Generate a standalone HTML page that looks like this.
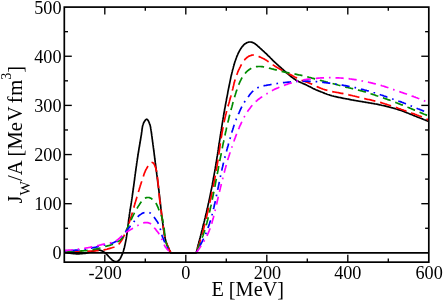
<!DOCTYPE html>
<html><head><meta charset="utf-8"><title>J_W/A</title>
<style>html,body{margin:0;padding:0;background:#fff;}body{width:443px;height:300px;overflow:hidden;position:relative;font-family:"Liberation Serif",serif;}</style>
</head><body>
<svg width="443" height="300" viewBox="0 0 443 300" style="position:absolute;left:0;top:0;will-change:transform">
<rect x="0" y="0" width="443" height="300" fill="#fff"/>
<g fill="none" stroke-width="1.7" stroke-linejoin="round">
<path d="M64.3,252.3 L65.3,252.5 L66.3,252.6 L67.3,252.8 L68.2,252.9 L69.2,253.1 L70.2,253.2 L71.2,253.4 L72.2,253.5 L73.2,253.6 L74.2,253.7 L75.2,253.7 L76.2,253.8 L77.2,253.8 L78.2,253.8 L79.2,253.8 L80.2,253.7 L81.2,253.7 L82.1,253.6 L83.1,253.5 L84.1,253.4 L85.1,253.3 L86.1,253.1 L87.1,252.9 L88.1,252.7 L89.0,252.5 L90.0,252.2 L90.9,251.9 L91.9,251.5 L92.8,251.2 L93.8,250.9 L94.7,250.6 L95.7,250.3 L96.7,250.1 L97.7,250.0 L98.7,250.0 L99.7,250.2 L100.6,250.4 L101.6,250.7 L102.5,251.1 L103.4,251.6 L104.2,252.2 L105.0,252.8 L105.8,253.4 L106.5,254.1 L107.2,254.8 L107.9,255.6 L108.5,256.3 L109.2,257.0 L109.9,257.8 L110.6,258.5 L111.3,259.2 L112.0,259.9 L112.8,260.5 L113.7,261.0 L114.6,261.5 L115.6,261.7 L116.6,261.6 L117.5,261.3 L118.4,260.7 L119.2,260.0 L119.8,259.2 L120.3,258.4 L120.8,257.5 L121.2,256.6 L121.6,255.7 L122.0,254.8 L122.4,253.9 L122.7,252.9 L123.1,252.0 L123.4,251.1 L123.7,250.1 L124.0,249.1 L124.2,248.2 L124.5,247.2 L124.7,246.2 L124.9,245.3 L125.1,244.3 L125.3,243.3 L125.5,242.3 L125.7,241.3 L125.9,240.4 L126.1,239.4 L126.3,238.4 L126.4,237.4 L126.6,236.4 L126.7,235.4 L126.9,234.5 L127.0,233.5 L127.2,232.5 L127.3,231.5 L127.4,230.5 L127.5,229.5 L127.7,228.5 L127.8,227.5 L127.9,226.5 L128.0,225.6 L128.1,224.6 L128.3,223.6 L128.4,222.6 L128.5,221.6 L128.6,220.6 L128.7,219.6 L128.9,218.6 L129.0,217.6 L129.2,216.7 L129.3,215.7 L129.4,214.7 L129.6,213.7 L129.7,212.7 L129.9,211.7 L130.0,210.7 L130.2,209.8 L130.3,208.8 L130.5,207.8 L130.6,206.8 L130.8,205.8 L131.0,204.8 L131.1,203.8 L131.3,202.9 L131.4,201.9 L131.6,200.9 L131.7,199.9 L131.9,198.9 L132.0,197.9 L132.2,196.9 L132.3,195.9 L132.4,195.0 L132.6,194.0 L132.7,193.0 L132.9,192.0 L133.0,191.0 L133.1,190.0 L133.3,189.0 L133.4,188.0 L133.5,187.0 L133.7,186.1 L133.8,185.1 L133.9,184.1 L134.1,183.1 L134.2,182.1 L134.3,181.1 L134.5,180.1 L134.6,179.1 L134.7,178.1 L134.8,177.2 L135.0,176.2 L135.1,175.2 L135.2,174.2 L135.4,173.2 L135.5,172.2 L135.6,171.3 L135.8,170.3 L135.9,169.3 L136.0,168.3 L136.2,167.3 L136.3,166.3 L136.5,165.4 L136.6,164.4 L136.7,163.4 L136.9,162.4 L137.0,161.4 L137.2,160.4 L137.3,159.5 L137.5,158.5 L137.6,157.5 L137.8,156.5 L137.9,155.5 L138.1,154.5 L138.2,153.5 L138.4,152.5 L138.6,151.5 L138.7,150.5 L138.9,149.5 L139.0,148.5 L139.2,147.5 L139.4,146.5 L139.6,145.5 L139.7,144.5 L139.9,143.5 L140.1,142.5 L140.2,141.5 L140.4,140.5 L140.6,139.5 L140.7,138.5 L140.9,137.5 L141.0,136.6 L141.2,135.6 L141.4,134.6 L141.5,133.6 L141.6,132.7 L141.8,131.7 L141.9,130.8 L142.0,129.8 L142.1,128.9 L142.3,128.0 L142.4,127.0 L142.6,126.1 L142.8,125.2 L143.2,124.2 L143.5,123.2 L144.0,122.2 L144.6,121.2 L145.3,120.2 L146.0,119.5 L146.7,119.2 L147.4,119.5 L148.1,120.4 L148.6,121.4 L149.1,122.5 L149.5,123.6 L149.9,124.6 L150.2,125.6 L150.4,126.5 L150.6,127.4 L150.7,128.4 L150.9,129.3 L151.0,130.2 L151.2,131.1 L151.3,132.0 L151.4,133.0 L151.6,133.9 L151.7,134.9 L151.8,135.9 L152.0,136.8 L152.1,137.8 L152.2,138.8 L152.4,139.8 L152.5,140.8 L152.6,141.8 L152.8,142.8 L152.9,143.9 L153.0,144.9 L153.2,145.9 L153.3,146.9 L153.4,147.9 L153.6,148.9 L153.7,150.0 L153.8,151.0 L154.0,152.0 L154.1,153.0 L154.2,154.0 L154.3,155.0 L154.5,156.0 L154.6,157.0 L154.7,158.0 L154.8,159.0 L155.0,159.9 L155.1,160.9 L155.2,161.9 L155.3,162.9 L155.5,163.9 L155.6,164.9 L155.7,165.9 L155.8,166.8 L156.0,167.8 L156.1,168.8 L156.2,169.8 L156.3,170.8 L156.5,171.7 L156.6,172.7 L156.7,173.7 L156.8,174.7 L157.0,175.7 L157.1,176.7 L157.2,177.6 L157.3,178.6 L157.5,179.6 L157.6,180.6 L157.7,181.6 L157.8,182.6 L158.0,183.6 L158.1,184.6 L158.2,185.5 L158.4,186.5 L158.5,187.5 L158.6,188.5 L158.7,189.5 L158.9,190.5 L159.0,191.5 L159.1,192.5 L159.2,193.5 L159.3,194.5 L159.5,195.5 L159.6,196.5 L159.7,197.4 L159.8,198.4 L159.9,199.4 L160.0,200.4 L160.2,201.4 L160.3,202.4 L160.4,203.4 L160.5,204.4 L160.6,205.4 L160.7,206.4 L160.8,207.4 L160.9,208.4 L161.1,209.3 L161.2,210.3 L161.3,211.3 L161.4,212.3 L161.5,213.3 L161.6,214.3 L161.7,215.3 L161.9,216.3 L162.0,217.3 L162.1,218.3 L162.2,219.2 L162.3,220.2 L162.5,221.2 L162.6,222.2 L162.7,223.2 L162.9,224.2 L163.0,225.2 L163.1,226.2 L163.3,227.1 L163.4,228.1 L163.6,229.1 L163.7,230.1 L163.9,231.1 L164.0,232.1 L164.2,233.1 L164.3,234.1 L164.5,235.0 L164.7,236.0 L164.9,237.0 L165.1,238.0 L165.3,239.0 L165.6,239.9 L165.8,240.9 L166.1,241.8 L166.4,242.8 L166.8,243.7 L167.1,244.7 L167.5,245.6 L167.9,246.5 L168.3,247.4 L168.7,248.3 L169.1,249.2 L169.5,250.1 L170.0,251.0 L170.4,251.9 L170.8,252.8 L196.2,252.8 L196.4,251.9 L196.7,250.9 L196.9,249.9 L197.2,249.0 L197.4,248.0 L197.7,247.1 L197.9,246.1 L198.2,245.1 L198.4,244.2 L198.7,243.2 L198.9,242.2 L199.2,241.3 L199.4,240.3 L199.7,239.3 L199.9,238.4 L200.2,237.4 L200.4,236.4 L200.7,235.5 L200.9,234.5 L201.2,233.5 L201.4,232.6 L201.7,231.6 L201.9,230.6 L202.2,229.7 L202.4,228.7 L202.7,227.7 L202.9,226.8 L203.1,225.8 L203.4,224.8 L203.6,223.8 L203.9,222.9 L204.1,221.9 L204.4,220.9 L204.6,220.0 L204.8,219.0 L205.1,218.0 L205.3,217.1 L205.5,216.1 L205.8,215.1 L206.0,214.2 L206.2,213.2 L206.5,212.2 L206.7,211.2 L206.9,210.3 L207.1,209.3 L207.4,208.3 L207.6,207.3 L207.8,206.4 L208.0,205.4 L208.2,204.4 L208.4,203.5 L208.7,202.5 L208.9,201.5 L209.1,200.5 L209.3,199.5 L209.5,198.6 L209.7,197.6 L209.9,196.6 L210.1,195.6 L210.3,194.7 L210.5,193.7 L210.7,192.7 L210.9,191.7 L211.1,190.7 L211.3,189.8 L211.5,188.8 L211.7,187.8 L211.9,186.8 L212.1,185.9 L212.3,184.9 L212.4,183.9 L212.6,182.9 L212.8,181.9 L213.0,180.9 L213.2,180.0 L213.4,179.0 L213.5,178.0 L213.7,177.0 L213.9,176.0 L214.1,175.1 L214.2,174.1 L214.4,173.1 L214.6,172.1 L214.8,171.1 L214.9,170.1 L215.1,169.2 L215.3,168.2 L215.4,167.2 L215.6,166.2 L215.8,165.2 L215.9,164.2 L216.1,163.2 L216.3,162.3 L216.4,161.3 L216.6,160.3 L216.7,159.3 L216.9,158.3 L217.0,157.3 L217.2,156.4 L217.4,155.4 L217.5,154.4 L217.7,153.4 L217.8,152.4 L218.0,151.4 L218.1,150.4 L218.3,149.4 L218.4,148.5 L218.6,147.5 L218.7,146.5 L218.9,145.5 L219.0,144.5 L219.2,143.5 L219.3,142.5 L219.5,141.6 L219.6,140.6 L219.8,139.6 L219.9,138.6 L220.1,137.6 L220.2,136.6 L220.4,135.6 L220.5,134.7 L220.7,133.7 L220.8,132.7 L221.0,131.7 L221.2,130.7 L221.3,129.7 L221.5,128.7 L221.6,127.7 L221.8,126.8 L221.9,125.8 L222.1,124.8 L222.2,123.8 L222.4,122.8 L222.6,121.8 L222.7,120.9 L222.9,119.9 L223.0,118.9 L223.2,117.9 L223.4,116.9 L223.5,115.9 L223.7,114.9 L223.9,114.0 L224.0,113.0 L224.2,112.0 L224.4,111.0 L224.6,110.0 L224.7,109.0 L224.9,108.1 L225.1,107.1 L225.3,106.1 L225.4,105.1 L225.6,104.1 L225.8,103.2 L226.0,102.2 L226.2,101.2 L226.4,100.2 L226.5,99.2 L226.7,98.3 L226.9,97.3 L227.1,96.3 L227.3,95.3 L227.5,94.3 L227.7,93.3 L227.8,92.4 L228.0,91.4 L228.2,90.4 L228.4,89.4 L228.6,88.4 L228.8,87.5 L229.0,86.5 L229.2,85.5 L229.4,84.5 L229.6,83.6 L229.8,82.6 L230.0,81.6 L230.2,80.6 L230.4,79.6 L230.6,78.7 L230.8,77.7 L231.0,76.7 L231.2,75.7 L231.5,74.8 L231.7,73.8 L231.9,72.8 L232.2,71.9 L232.4,70.9 L232.6,69.9 L232.9,69.0 L233.2,68.0 L233.4,67.0 L233.7,66.1 L234.0,65.1 L234.2,64.2 L234.5,63.2 L234.8,62.2 L235.1,61.3 L235.5,60.3 L235.8,59.4 L236.1,58.5 L236.5,57.5 L236.8,56.6 L237.2,55.7 L237.6,54.8 L238.0,53.8 L238.4,52.9 L238.9,52.0 L239.3,51.2 L239.8,50.3 L240.3,49.4 L240.9,48.6 L241.4,47.8 L242.0,46.9 L242.7,46.2 L243.3,45.4 L244.0,44.7 L244.8,44.0 L245.6,43.4 L246.5,42.9 L247.4,42.5 L248.4,42.2 L249.4,42.0 L250.4,42.0 L251.3,42.2 L252.3,42.4 L253.2,42.8 L254.2,43.3 L255.0,43.8 L255.8,44.4 L256.6,45.0 L257.4,45.6 L258.1,46.3 L258.9,47.0 L259.6,47.6 L260.3,48.3 L261.1,49.0 L261.8,49.7 L262.5,50.4 L263.3,51.0 L264.0,51.7 L264.7,52.4 L265.5,53.1 L266.2,53.7 L266.9,54.4 L267.6,55.1 L268.3,55.8 L269.1,56.5 L269.8,57.2 L270.5,58.0 L271.2,58.7 L271.9,59.4 L272.6,60.1 L273.3,60.8 L274.0,61.5 L274.7,62.1 L275.5,62.8 L276.2,63.5 L276.9,64.2 L277.7,64.8 L278.4,65.5 L279.1,66.2 L279.9,66.8 L280.6,67.5 L281.4,68.2 L282.1,68.8 L282.9,69.5 L283.6,70.1 L284.4,70.8 L285.1,71.5 L285.9,72.1 L286.6,72.8 L287.4,73.5 L288.2,74.1 L288.9,74.8 L289.7,75.4 L290.4,76.1 L291.2,76.7 L292.0,77.3 L292.8,77.9 L293.6,78.5 L294.4,79.1 L295.3,79.6 L296.1,80.2 L297.0,80.6 L297.8,81.1 L298.7,81.6 L299.6,82.0 L300.5,82.4 L301.4,82.8 L302.4,83.2 L303.3,83.6 L304.2,84.0 L305.1,84.4 L306.0,84.8 L306.9,85.3 L307.8,85.7 L308.7,86.2 L309.6,86.6 L310.5,87.1 L311.4,87.6 L312.2,88.0 L313.1,88.5 L314.0,88.9 L314.9,89.3 L315.8,89.7 L316.8,90.1 L317.7,90.5 L318.6,90.9 L319.5,91.2 L320.5,91.6 L321.4,92.0 L322.3,92.3 L323.3,92.7 L324.2,93.1 L325.1,93.5 L326.0,93.8 L327.0,94.2 L327.9,94.5 L328.9,94.8 L329.8,95.1 L330.8,95.4 L331.7,95.7 L332.7,96.0 L333.6,96.2 L334.6,96.5 L335.6,96.7 L336.6,96.9 L337.5,97.1 L338.5,97.3 L339.5,97.5 L340.5,97.7 L341.5,97.9 L342.4,98.1 L343.4,98.3 L344.4,98.5 L345.4,98.7 L346.4,98.8 L347.3,99.0 L348.3,99.2 L349.3,99.4 L350.3,99.6 L351.3,99.8 L352.2,100.0 L353.2,100.1 L354.2,100.3 L355.2,100.5 L356.2,100.7 L357.2,100.8 L358.1,101.0 L359.1,101.2 L360.1,101.3 L361.1,101.5 L362.1,101.6 L363.1,101.8 L364.0,102.0 L365.0,102.1 L366.0,102.3 L367.0,102.5 L368.0,102.6 L369.0,102.8 L370.0,103.0 L370.9,103.1 L371.9,103.3 L372.9,103.5 L373.9,103.7 L374.9,103.9 L375.8,104.0 L376.8,104.2 L377.8,104.4 L378.8,104.6 L379.8,104.8 L380.7,105.0 L381.7,105.3 L382.7,105.5 L383.7,105.7 L384.6,105.9 L385.6,106.1 L386.6,106.4 L387.5,106.6 L388.5,106.8 L389.5,107.1 L390.4,107.3 L391.4,107.6 L392.4,107.8 L393.3,108.1 L394.3,108.4 L395.3,108.7 L396.2,109.0 L397.2,109.3 L398.1,109.6 L399.1,109.9 L400.0,110.2 L401.0,110.5 L401.9,110.8 L402.8,111.2 L403.8,111.5 L404.7,111.9 L405.6,112.2 L406.6,112.6 L407.5,113.0 L408.4,113.3 L409.3,113.7 L410.3,114.1 L411.2,114.5 L412.1,114.8 L413.0,115.2 L414.0,115.6 L414.9,116.0 L415.8,116.3 L416.7,116.7 L417.7,117.1 L418.6,117.4 L419.5,117.8 L420.5,118.2 L421.4,118.5 L422.3,118.9 L423.2,119.3 L424.2,119.7 L425.1,120.0 L426.0,120.4 L426.9,120.8 L427.9,121.1 L428.8,121.5" stroke="#000000"/>
<path d="M64.3,251.3 L65.3,251.3 L66.3,251.4 L67.3,251.4 L68.3,251.4 L69.3,251.4 L70.3,251.5 L71.3,251.5 L72.3,251.5 L73.3,251.5 L74.3,251.5 L75.3,251.5 L76.3,251.5 L77.3,251.5 L78.2,251.5 L79.2,251.5 L80.2,251.5 L81.2,251.5 L82.2,251.4 L83.2,251.4 L84.2,251.4 L85.2,251.3 L86.2,251.3 L87.2,251.2 L88.2,251.2 L89.2,251.1 L90.2,251.1 L91.2,251.0 L92.2,251.0 L93.2,250.9 L94.2,250.8 L95.2,250.8 L96.2,250.7 L97.2,250.7 L98.2,250.6 L99.2,250.5 L100.1,250.5 L101.1,250.3 L102.1,250.2 L103.1,250.1 L104.1,249.9 L105.0,249.7 L106.0,249.5 L107.0,249.2 L107.9,248.9 L108.9,248.7 L109.8,248.4 L110.8,248.1 L111.8,247.8 L112.7,247.5 L113.7,247.2 L114.6,246.9 L115.6,246.5 L116.4,246.1 L117.2,245.5 L118.0,244.9 L118.7,244.3 L119.4,243.5 L120.0,242.8 L120.6,241.9 L121.2,241.1 L121.8,240.2 L122.3,239.3 L122.8,238.4 L123.2,237.4 L123.7,236.5 L124.1,235.6 L124.5,234.7 L124.9,233.8 L125.3,232.8 L125.7,231.9 L126.1,231.0 L126.4,230.1 L126.8,229.2 L127.0,228.7" stroke="#ff0000" stroke-dasharray="11.48,4.92" stroke-dashoffset="9.94"/>
<path d="M127.0,228.7 L127.2,228.3 L127.5,227.4 L127.9,226.4 L128.2,225.5 L128.5,224.6 L128.9,223.6 L129.2,222.7 L129.5,221.8 L129.8,220.8 L130.1,219.9 L130.4,219.0 L130.7,218.0 L131.0,217.1 L131.3,216.1 L131.6,215.2 L131.9,214.2 L132.2,213.2 L132.5,212.3 L132.7,211.3 L133.0,210.4 L133.3,209.4 L133.6,208.4 L133.9,207.5 L134.1,206.5 L134.4,205.5 L134.7,204.6 L135.0,203.6 L135.2,202.6 L135.5,201.7 L135.8,200.7 L136.1,199.7 L136.4,198.7 L136.7,197.7 L136.9,196.8 L137.2,195.8 L137.5,194.8 L137.8,193.8 L138.1,192.9 L138.4,191.9 L138.7,190.9 L139.0,190.0 L139.3,189.0 L139.6,188.0 L139.9,187.1 L140.2,186.1 L140.5,185.1 L140.8,184.2 L141.1,183.2 L141.4,182.3 L141.7,181.4 L142.0,180.4 L142.3,179.5 L142.6,178.6 L142.9,177.7 L143.2,176.8 L143.5,175.9 L143.8,175.0 L144.1,174.1 L144.4,173.2 L144.8,172.4 L145.1,171.5 L145.5,170.6 L145.9,169.7 L146.4,168.9 L146.9,168.0 L147.4,167.1 L148.1,166.2 L148.8,165.3 L149.5,164.4 L150.4,163.5 L151.2,162.9 L152.0,162.5 L152.8,162.6 L153.4,163.1 L154.0,163.9 L154.6,165.0 L155.0,166.1 L155.4,167.1 L155.8,168.2 L156.1,169.2 L156.3,170.1 L156.5,171.1 L156.7,172.0 L156.9,172.9 L157.0,173.9 L157.2,174.8 L157.3,175.7 L157.4,176.6 L157.5,177.6 L157.6,178.5 L157.7,179.5 L157.8,180.5 L157.9,181.4 L158.0,182.4 L158.1,183.4 L158.2,184.4 L158.3,185.4 L158.4,186.4 L158.5,187.4 L158.6,188.4 L158.7,189.4 L158.8,190.4 L158.9,191.4 L158.9,192.5 L159.0,193.5 L159.1,194.5 L159.2,195.5 L159.3,196.5 L159.4,197.5 L159.5,198.5 L159.6,199.5 L159.8,200.5 L159.9,201.5 L160.0,202.5 L160.1,203.5 L160.3,204.5 L160.4,205.5 L160.5,206.5 L160.7,207.5 L160.8,208.5 L160.9,209.4 L161.1,210.4 L161.2,211.4 L161.3,212.4 L161.5,213.4 L161.6,214.4 L161.7,215.3 L161.9,216.3 L162.0,217.3 L162.1,218.3 L162.3,219.3 L162.4,220.3 L162.5,221.2 L162.6,222.2 L162.8,223.2 L162.9,224.2 L163.0,225.2 L163.2,226.2 L163.3,227.2 L163.4,228.2 L163.6,229.2 L163.7,230.1 L163.9,231.1 L164.0,232.1 L164.2,233.1 L164.3,234.1 L164.5,235.1 L164.7,236.1 L164.9,237.0 L165.1,238.0 L165.3,239.0 L165.6,240.0 L165.8,240.9 L166.1,241.9 L166.4,242.8 L166.8,243.7 L167.1,244.7 L167.5,245.6 L167.9,246.5 L168.3,247.4 L168.7,248.3 L169.1,249.2 L169.5,250.1 L170.0,251.0 L170.4,251.9 L170.8,252.8" stroke="#ff0000" stroke-dasharray="11.48,4.92" stroke-dashoffset="10.84"/>
<path d="M196.2,252.8 L196.5,251.9 L196.9,251.0 L197.2,250.0 L197.5,249.1 L197.8,248.1 L198.2,247.2 L198.5,246.2 L198.8,245.3 L199.1,244.4 L199.4,243.4 L199.7,242.5 L200.0,241.5 L200.3,240.6 L200.6,239.6 L200.9,238.6 L201.2,237.7 L201.5,236.7 L201.8,235.8 L202.0,234.8 L202.3,233.9 L202.6,232.9 L202.8,231.9 L203.1,231.0 L203.3,230.0 L203.6,229.0 L203.8,228.1 L204.1,227.1 L204.3,226.1 L204.6,225.2 L204.8,224.2 L205.1,223.2 L205.3,222.3 L205.5,221.3 L205.8,220.3 L206.0,219.3 L206.2,218.4 L206.4,217.4 L206.7,216.4 L206.9,215.5 L207.1,214.5 L207.3,213.5 L207.6,212.5 L207.8,211.6 L208.0,210.6 L208.2,209.6 L208.5,208.6 L208.7,207.7 L208.9,206.7 L209.1,205.7 L209.3,204.8 L209.6,203.8 L209.8,202.8 L210.0,201.8 L210.2,200.9 L210.4,199.9 L210.6,198.9 L210.9,197.9 L211.1,197.0 L211.3,196.0 L211.5,195.0 L211.7,194.0 L211.9,193.1 L212.1,192.1 L212.3,191.1 L212.5,190.1 L212.7,189.1 L212.9,188.2 L213.1,187.2 L213.3,186.2 L213.5,185.2 L213.7,184.3 L213.9,183.3 L214.1,182.3 L214.3,181.3 L214.5,180.3 L214.7,179.4 L214.9,178.4 L215.0,177.4 L215.2,176.4 L215.4,175.4 L215.6,174.5 L215.8,173.5 L215.9,172.5 L216.1,171.5 L216.3,170.5 L216.4,169.5 L216.6,168.6 L216.8,167.6 L216.9,166.6 L217.1,165.6 L217.3,164.6 L217.4,163.6 L217.6,162.6 L217.7,161.7 L217.9,160.7 L218.0,159.7 L218.2,158.7 L218.3,157.7 L218.5,156.7 L218.6,155.7 L218.8,154.7 L218.9,153.7 L219.0,152.8 L219.2,151.8 L219.3,150.8 L219.5,149.8 L219.6,148.8 L219.8,147.8 L219.9,146.8 L220.0,145.8 L220.2,144.8 L220.3,143.9 L220.5,142.9 L220.6,141.9 L220.8,140.9 L220.9,139.9 L221.1,138.9 L221.2,137.9 L221.4,136.9 L221.6,136.0 L221.7,135.0 L221.9,134.0 L222.0,133.0 L222.2,132.0 L222.4,131.0 L222.6,130.1 L222.7,129.1 L222.9,128.1 L223.1,127.1 L223.3,126.1 L223.5,125.2 L223.7,124.2 L223.9,123.2 L224.1,122.2 L224.3,121.2 L224.5,120.3 L224.7,119.3 L224.9,118.3 L225.1,117.4 L225.4,116.4 L225.6,115.4 L225.8,114.5 L226.1,113.5 L226.3,112.5 L226.6,111.6 L226.8,110.6 L227.1,109.6 L227.4,108.7 L227.6,107.7 L227.9,106.7 L228.2,105.8 L228.4,104.8 L228.7,103.9 L229.0,102.9 L229.3,101.9 L229.5,101.0 L229.8,100.0 L230.1,99.1 L230.3,98.1 L230.6,97.1 L230.9,96.2 L231.1,95.2 L231.4,94.3 L231.7,93.3 L231.9,92.3 L232.2,91.4 L232.4,90.4 L232.6,89.4 L232.9,88.4 L233.1,87.5 L233.3,86.5 L233.6,85.5 L233.8,84.6 L234.0,83.6 L234.3,82.6 L234.5,81.7 L234.8,80.7 L235.1,79.7 L235.4,78.8 L235.7,77.8 L236.0,76.9 L236.3,75.9 L236.6,75.0 L237.0,74.1 L237.4,73.1 L237.7,72.2 L238.1,71.3 L238.5,70.4 L238.9,69.5 L239.4,68.6 L239.8,67.7 L240.3,66.8 L240.7,65.9 L241.2,65.0 L241.7,64.1 L242.2,63.2 L242.7,62.4 L243.3,61.6 L243.9,60.7 L244.5,60.0 L245.1,59.2 L245.9,58.5 L246.6,57.8 L247.4,57.2 L248.3,56.6 L249.2,56.1 L250.1,55.7 L251.1,55.4 L252.0,55.1 L253.0,55.0 L254.0,55.0 L255.0,55.1 L255.9,55.4 L256.9,55.7 L257.9,56.0 L258.8,56.4 L259.7,56.9 L260.6,57.3 L261.6,57.7 L262.5,58.2 L263.3,58.6 L264.2,59.1 L265.1,59.6 L265.9,60.1 L266.8,60.6 L267.6,61.1 L268.4,61.7 L269.3,62.2 L270.1,62.8 L270.9,63.4 L271.7,63.9 L272.6,64.5 L273.4,65.1 L274.2,65.6 L275.1,66.2 L275.9,66.7 L276.8,67.2 L277.6,67.7 L278.5,68.2 L279.4,68.7 L280.2,69.2 L281.1,69.7 L282.0,70.2 L282.9,70.6 L283.7,71.1 L284.6,71.6 L285.5,72.0 L286.4,72.5 L287.3,73.0 L288.2,73.4 L289.0,73.9 L289.9,74.4 L290.8,74.8 L291.7,75.3 L292.6,75.8 L293.5,76.2 L294.3,76.7 L295.2,77.2 L296.1,77.6 L297.0,78.1 L297.9,78.5 L298.8,78.9 L299.7,79.4 L300.6,79.8 L301.5,80.2 L302.5,80.6 L303.4,80.9 L304.3,81.3 L305.2,81.6 L306.2,82.0 L307.1,82.3 L308.1,82.6 L309.0,83.0 L309.9,83.4 L310.9,83.7 L311.8,84.1 L312.7,84.5 L313.6,85.0 L314.5,85.4 L315.4,85.9 L316.3,86.3 L317.2,86.7 L318.1,87.1 L319.0,87.5 L319.9,87.9 L320.9,88.3 L321.8,88.6 L322.7,89.0 L323.7,89.3 L324.6,89.6 L325.6,89.9 L326.5,90.2 L327.5,90.4 L328.5,90.7 L329.4,90.9 L330.4,91.1 L331.4,91.4 L332.4,91.6 L333.3,91.8 L334.3,92.0 L335.3,92.2 L336.3,92.3 L337.3,92.5 L338.2,92.7 L339.2,92.9 L340.2,93.1 L341.2,93.3 L342.2,93.4 L343.1,93.6 L344.1,93.8 L345.1,94.0 L346.1,94.2 L347.1,94.4 L348.0,94.6 L349.0,94.9 L350.0,95.1 L350.9,95.3 L351.9,95.5 L352.9,95.8 L353.9,96.0 L354.8,96.2 L355.8,96.5 L356.8,96.7 L357.7,97.0 L358.7,97.2 L359.7,97.5 L360.6,97.7 L361.6,97.9 L362.6,98.2 L363.5,98.4 L364.5,98.6 L365.5,98.8 L366.5,99.1 L367.4,99.3 L368.4,99.5 L369.4,99.7 L370.4,99.9 L371.3,100.1 L372.3,100.4 L373.3,100.6 L374.3,100.8 L375.2,101.1 L376.2,101.3 L377.1,101.6 L378.1,101.8 L379.1,102.1 L380.0,102.4 L381.0,102.6 L381.9,102.9 L382.9,103.2 L383.9,103.5 L384.8,103.8 L385.8,104.1 L386.7,104.4 L387.7,104.7 L388.6,105.0 L389.6,105.3 L390.5,105.6 L391.5,105.9 L392.4,106.3 L393.4,106.6 L394.3,106.9 L395.3,107.2 L396.2,107.5 L397.1,107.8 L398.1,108.2 L399.0,108.5 L400.0,108.8 L400.9,109.2 L401.8,109.5 L402.8,109.8 L403.7,110.2 L404.7,110.5 L405.6,110.9 L406.5,111.2 L407.5,111.5 L408.4,111.9 L409.3,112.2 L410.3,112.6 L411.2,112.9 L412.2,113.3 L413.1,113.6 L414.0,113.9 L415.0,114.3 L415.9,114.6 L416.8,115.0 L417.8,115.3 L418.7,115.7 L419.6,116.0 L420.6,116.4 L421.5,116.8 L422.4,117.2 L423.3,117.6 L424.2,118.0 L425.2,118.4 L426.1,118.8 L427.0,119.2 L427.9,119.6 L428.8,120.0" stroke="#ff0000" stroke-dasharray="11.48,4.92" stroke-dashoffset="13.83"/>
<path d="M64.3,251.2 L65.3,251.2 L66.3,251.2 L67.3,251.2 L68.3,251.2 L69.3,251.2 L70.3,251.2 L71.3,251.2 L72.3,251.2 L73.3,251.2 L74.2,251.2 L75.2,251.2 L76.2,251.1 L77.2,251.1 L78.2,251.1 L79.2,251.0 L80.2,251.0 L81.2,250.9 L82.2,250.9 L83.2,250.8 L84.2,250.7 L85.2,250.6 L86.2,250.6 L87.2,250.4 L88.2,250.3 L89.1,250.2 L90.1,250.1 L91.1,249.9 L92.1,249.8 L93.1,249.6 L94.1,249.4 L95.0,249.2 L96.0,249.0 L97.0,248.7 L97.9,248.5 L98.9,248.3 L99.9,248.0 L100.8,247.7 L101.8,247.5 L102.7,247.2 L103.7,247.0 L104.7,246.7 L105.6,246.4 L106.6,246.2 L107.5,245.9 L108.5,245.7 L109.5,245.4 L110.4,245.1 L111.4,244.8 L112.3,244.5 L113.2,244.2 L114.2,243.8 L115.1,243.4 L116.0,242.9 L116.9,242.4 L117.7,241.9 L118.6,241.3 L119.4,240.7 L120.2,240.1 L120.9,239.4 L121.6,238.7 L122.3,237.9 L122.9,237.2 L123.5,236.3 L124.0,235.5 L124.5,234.6 L124.9,233.7 L125.3,232.8 L125.7,231.9 L126.1,231.0 L126.5,230.1 L126.9,229.2 L127.3,228.2 L127.7,227.3 L128.1,226.4 L128.5,225.5 L128.9,224.6 L129.3,223.7 L129.7,222.8 L130.1,221.9 L130.6,221.0 L131.0,220.1 L131.4,219.2 L131.8,218.3 L132.2,217.4 L132.6,216.5 L133.1,215.6 L133.5,214.7 L134.0,213.8 L134.4,212.9 L134.9,212.0 L135.4,211.1 L135.8,210.3 L136.3,209.4 L136.8,208.6 L137.4,207.7 L137.9,206.9 L138.4,206.1 L139.0,205.2 L139.5,204.4 L140.1,203.6 L140.6,202.7 L141.2,201.9 L141.8,201.1 L142.4,200.3 L143.1,199.6 L143.9,198.9 L144.7,198.4 L145.6,197.9 L146.6,197.6 L147.6,197.5 L148.6,197.5 L149.6,197.7 L150.5,198.1 L151.4,198.6 L152.2,199.2 L153.0,199.8 L153.8,200.5 L154.4,201.2 L155.1,202.0 L155.7,202.8 L156.2,203.6 L156.7,204.5 L157.1,205.4 L157.5,206.3 L157.9,207.2 L158.3,208.1 L158.6,209.1 L159.0,210.0 L159.4,210.9 L159.8,211.8 L160.2,212.8 L160.5,213.7 L160.9,214.6 L161.3,215.5 L161.6,216.5 L161.9,217.4 L162.2,218.3 L162.5,219.3 L162.7,220.2 L162.9,221.2 L163.1,222.2 L163.3,223.2 L163.5,224.1 L163.7,225.1 L163.8,226.1 L163.9,227.1 L164.1,228.1 L164.2,229.1 L164.3,230.1 L164.4,231.1 L164.5,232.1 L164.6,233.1 L164.7,234.1 L164.8,235.1 L165.0,236.1 L165.1,237.1 L165.2,238.1 L165.4,239.1 L165.6,240.1 L165.8,241.1 L166.0,242.0 L166.2,243.0 L166.5,243.9 L166.8,244.9 L167.1,245.8 L167.5,246.7 L167.9,247.6 L168.3,248.5 L168.8,249.4 L169.3,250.3 L169.8,251.1 L170.3,252.0 L170.8,252.8" stroke="#008b00" stroke-dasharray="8.20,4.92" stroke-dashoffset="11.09"/>
<path d="M196.2,252.8 L196.6,251.9 L197.0,251.0 L197.3,250.1 L197.7,249.1 L198.1,248.2 L198.5,247.3 L198.9,246.4 L199.2,245.4 L199.6,244.5 L200.0,243.6 L200.3,242.6 L200.7,241.7 L201.1,240.8 L201.4,239.8 L201.8,238.9 L202.1,238.0 L202.4,237.0 L202.8,236.1 L203.1,235.2 L203.4,234.2 L203.7,233.3 L204.1,232.3 L204.4,231.4 L204.7,230.4 L205.0,229.5 L205.3,228.5 L205.5,227.5 L205.8,226.6 L206.1,225.6 L206.4,224.7 L206.6,223.7 L206.9,222.7 L207.1,221.8 L207.4,220.8 L207.7,219.8 L207.9,218.9 L208.1,217.9 L208.4,216.9 L208.6,215.9 L208.9,215.0 L209.1,214.0 L209.3,213.0 L209.5,212.0 L209.8,211.1 L210.0,210.1 L210.2,209.1 L210.4,208.1 L210.6,207.2 L210.8,206.2 L211.1,205.2 L211.3,204.2 L211.5,203.2 L211.7,202.3 L211.9,201.3 L212.1,200.3 L212.3,199.3 L212.5,198.3 L212.7,197.4 L212.9,196.4 L213.1,195.4 L213.3,194.4 L213.5,193.4 L213.7,192.5 L213.9,191.5 L214.1,190.5 L214.3,189.5 L214.5,188.5 L214.7,187.6 L214.9,186.6 L215.1,185.6 L215.3,184.6 L215.4,183.6 L215.6,182.7 L215.8,181.7 L216.0,180.7 L216.2,179.7 L216.4,178.7 L216.6,177.7 L216.8,176.8 L217.0,175.8 L217.1,174.8 L217.3,173.8 L217.5,172.8 L217.7,171.9 L217.9,170.9 L218.1,169.9 L218.3,168.9 L218.4,167.9 L218.6,166.9 L218.8,166.0 L219.0,165.0 L219.2,164.0 L219.4,163.0 L219.6,162.0 L219.8,161.0 L219.9,160.1 L220.1,159.1 L220.3,158.1 L220.5,157.1 L220.7,156.1 L220.9,155.2 L221.1,154.2 L221.3,153.2 L221.5,152.2 L221.7,151.2 L221.9,150.3 L222.1,149.3 L222.3,148.3 L222.4,147.3 L222.6,146.3 L222.8,145.3 L223.0,144.4 L223.2,143.4 L223.4,142.4 L223.7,141.4 L223.9,140.4 L224.1,139.5 L224.3,138.5 L224.5,137.5 L224.7,136.5 L224.9,135.6 L225.1,134.6 L225.3,133.6 L225.5,132.6 L225.7,131.7 L226.0,130.7 L226.2,129.7 L226.4,128.7 L226.6,127.7 L226.9,126.8 L227.1,125.8 L227.3,124.8 L227.5,123.9 L227.8,122.9 L228.0,121.9 L228.2,120.9 L228.5,120.0 L228.7,119.0 L228.9,118.0 L229.2,117.1 L229.4,116.1 L229.7,115.1 L229.9,114.1 L230.2,113.2 L230.4,112.2 L230.7,111.2 L230.9,110.3 L231.2,109.3 L231.4,108.3 L231.7,107.4 L232.0,106.4 L232.2,105.4 L232.5,104.5 L232.7,103.5 L233.0,102.5 L233.3,101.6 L233.5,100.6 L233.8,99.7 L234.1,98.7 L234.4,97.7 L234.7,96.8 L234.9,95.8 L235.2,94.9 L235.5,93.9 L235.8,93.0 L236.1,92.0 L236.4,91.1 L236.8,90.1 L237.1,89.2 L237.4,88.2 L237.7,87.3 L238.1,86.3 L238.4,85.4 L238.8,84.5 L239.2,83.5 L239.6,82.6 L240.0,81.7 L240.4,80.8 L240.9,79.9 L241.3,79.0 L241.8,78.1 L242.3,77.3 L242.9,76.4 L243.4,75.6 L244.0,74.8 L244.6,74.0 L245.3,73.2 L246.0,72.4 L246.7,71.7 L247.4,71.0 L248.2,70.4 L249.0,69.8 L249.8,69.2 L250.6,68.7 L251.5,68.2 L252.4,67.8 L253.4,67.5 L254.4,67.2 L255.3,66.9 L256.3,66.7 L257.3,66.6 L258.3,66.5 L259.3,66.5 L260.3,66.5 L261.3,66.6 L262.3,66.7 L263.3,66.8 L264.3,67.0 L265.3,67.2 L266.3,67.4 L267.3,67.6 L268.2,67.8 L269.2,68.1 L270.2,68.3 L271.1,68.6 L272.1,68.9 L273.1,69.1 L274.0,69.4 L275.0,69.7 L276.0,69.9 L276.9,70.2 L277.9,70.4 L278.9,70.7 L279.8,70.9 L280.8,71.2 L281.8,71.4 L282.7,71.6 L283.7,71.8 L284.7,72.1 L285.7,72.3 L286.6,72.5 L287.6,72.7 L288.6,72.9 L289.6,73.1 L290.6,73.3 L291.5,73.5 L292.5,73.7 L293.5,73.9 L294.5,74.0 L295.5,74.2 L296.5,74.4 L297.4,74.6 L298.4,74.8 L299.4,75.0 L300.4,75.2 L301.4,75.4 L302.3,75.6 L303.3,75.9 L304.3,76.1 L305.3,76.3 L306.2,76.5 L307.2,76.8 L308.2,77.0 L309.1,77.3 L310.1,77.5 L311.1,77.8 L312.0,78.1 L313.0,78.3 L314.0,78.6 L314.9,78.9 L315.9,79.1 L316.8,79.4 L317.8,79.7 L318.8,80.0 L319.7,80.2 L320.7,80.5 L321.7,80.7 L322.6,81.0 L323.6,81.2 L324.6,81.5 L325.5,81.7 L326.5,82.0 L327.5,82.2 L328.4,82.5 L329.4,82.7 L330.4,83.0 L331.4,83.2 L332.3,83.4 L333.3,83.7 L334.3,84.0 L335.2,84.2 L336.2,84.5 L337.2,84.7 L338.1,85.0 L339.1,85.3 L340.1,85.5 L341.0,85.8 L342.0,86.0 L342.9,86.3 L343.9,86.6 L344.9,86.8 L345.8,87.1 L346.8,87.3 L347.8,87.5 L348.8,87.8 L349.7,88.0 L350.7,88.2 L351.7,88.5 L352.7,88.7 L353.6,88.9 L354.6,89.2 L355.6,89.4 L356.6,89.6 L357.5,89.8 L358.5,90.1 L359.5,90.3 L360.4,90.6 L361.4,90.8 L362.4,91.1 L363.3,91.4 L364.3,91.7 L365.2,91.9 L366.2,92.2 L367.1,92.5 L368.1,92.8 L369.0,93.2 L370.0,93.5 L370.9,93.8 L371.9,94.1 L372.8,94.4 L373.8,94.7 L374.7,95.0 L375.7,95.4 L376.6,95.7 L377.6,96.0 L378.5,96.3 L379.5,96.6 L380.4,96.9 L381.4,97.3 L382.3,97.6 L383.3,97.9 L384.2,98.2 L385.2,98.6 L386.1,98.9 L387.0,99.2 L388.0,99.6 L388.9,99.9 L389.9,100.3 L390.8,100.6 L391.7,101.0 L392.7,101.3 L393.6,101.7 L394.5,102.0 L395.5,102.4 L396.4,102.8 L397.3,103.1 L398.3,103.5 L399.2,103.9 L400.1,104.2 L401.1,104.6 L402.0,104.9 L402.9,105.3 L403.9,105.7 L404.8,106.1 L405.7,106.4 L406.6,106.8 L407.6,107.2 L408.5,107.5 L409.4,107.9 L410.3,108.3 L411.3,108.7 L412.2,109.1 L413.1,109.5 L414.0,109.9 L414.9,110.3 L415.9,110.6 L416.8,111.0 L417.7,111.4 L418.6,111.8 L419.5,112.2 L420.5,112.6 L421.4,113.0 L422.3,113.4 L423.2,113.8 L424.2,114.2 L425.1,114.5 L426.0,114.9 L426.9,115.3 L427.9,115.6 L428.8,116.0" stroke="#008b00" stroke-dasharray="8.20,4.92" stroke-dashoffset="10.04"/>
<path d="M64.3,250.8 L65.3,250.8 L66.3,250.7 L67.3,250.7 L68.3,250.6 L69.3,250.6 L70.3,250.5 L71.3,250.5 L72.3,250.4 L73.3,250.3 L74.3,250.3 L75.3,250.2 L76.3,250.1 L77.3,250.1 L78.3,250.0 L79.3,249.9 L80.3,249.8 L81.3,249.7 L82.3,249.5 L83.2,249.4 L84.2,249.3 L85.2,249.2 L86.2,249.0 L87.2,248.8 L88.2,248.7 L89.2,248.5 L90.2,248.3 L91.2,248.1 L92.1,247.9 L93.1,247.7 L94.1,247.5 L95.1,247.3 L96.0,247.1 L97.0,246.8 L97.9,246.6 L98.9,246.3 L99.9,246.1 L100.8,245.8 L101.8,245.6 L102.8,245.3 L103.8,245.1 L104.7,244.9 L105.7,244.6 L106.7,244.4 L107.7,244.2 L108.7,244.0 L109.7,243.8 L110.7,243.5 L111.6,243.3 L112.6,243.0 L113.5,242.6 L114.4,242.3 L115.3,241.8 L116.2,241.4 L117.0,240.8 L117.8,240.3 L118.6,239.6 L119.3,239.0 L120.1,238.3 L120.8,237.6 L121.5,236.9 L122.2,236.1 L122.8,235.3 L123.5,234.5 L124.1,233.7 L124.8,232.9 L125.4,232.2 L126.1,231.4 L126.7,230.6 L127.3,229.8 L128.0,229.0 L128.6,228.3 L129.2,227.5 L129.9,226.7 L130.5,226.0 L131.2,225.2 L131.8,224.5 L132.5,223.7 L133.1,222.9 L133.7,222.1 L134.3,221.3 L134.9,220.5 L135.5,219.7 L136.1,218.9 L136.7,218.1 L137.3,217.3 L138.0,216.6 L138.7,215.9 L139.5,215.2 L140.3,214.6 L141.1,214.1 L142.0,213.5 L142.8,213.1 L143.8,212.7 L144.7,212.4 L145.7,212.2 L146.7,212.1 L147.7,212.2 L148.7,212.4 L149.7,212.7 L150.5,213.2 L151.3,213.8 L152.0,214.5 L152.7,215.3 L153.3,216.1 L153.9,216.9 L154.5,217.7 L155.1,218.6 L155.7,219.4 L156.3,220.2 L156.8,221.0 L157.4,221.8 L157.9,222.7 L158.3,223.6 L158.8,224.5 L159.1,225.4 L159.5,226.3 L159.8,227.3 L160.1,228.3 L160.4,229.2 L160.6,230.2 L160.9,231.2 L161.1,232.1 L161.4,233.1 L161.6,234.1 L161.9,235.0 L162.2,236.0 L162.5,236.9 L162.9,237.8 L163.3,238.8 L163.6,239.7 L164.0,240.6 L164.4,241.5 L164.8,242.5 L165.2,243.4 L165.7,244.3 L166.1,245.2 L166.6,246.1 L167.0,247.0 L167.5,247.8 L168.0,248.7 L168.6,249.5 L169.1,250.4 L169.7,251.2 L170.2,252.0 L170.8,252.9" stroke="#0000ff" stroke-dasharray="1.64,4.92,8.20,4.92" stroke-dashoffset="19.15"/>
<path d="M196.2,252.8 L196.7,252.0 L197.2,251.1 L197.6,250.2 L198.1,249.3 L198.6,248.4 L199.0,247.6 L199.5,246.7 L200.0,245.8 L200.4,244.9 L200.9,244.0 L201.4,243.1 L201.8,242.2 L202.3,241.4 L202.7,240.5 L203.1,239.6 L203.6,238.7 L204.0,237.8 L204.4,236.9 L204.8,235.9 L205.2,235.0 L205.6,234.1 L206.0,233.2 L206.4,232.3 L206.7,231.4 L207.1,230.4 L207.5,229.5 L207.8,228.6 L208.1,227.6 L208.5,226.7 L208.8,225.7 L209.1,224.8 L209.4,223.9 L209.7,222.9 L210.0,221.9 L210.3,221.0 L210.6,220.0 L210.9,219.1 L211.1,218.1 L211.4,217.1 L211.7,216.2 L211.9,215.2 L212.2,214.2 L212.4,213.3 L212.7,212.3 L212.9,211.3 L213.2,210.4 L213.4,209.4 L213.6,208.4 L213.9,207.4 L214.1,206.5 L214.3,205.5 L214.5,204.5 L214.8,203.5 L215.0,202.6 L215.2,201.6 L215.4,200.6 L215.6,199.6 L215.8,198.7 L216.0,197.7 L216.2,196.7 L216.4,195.7 L216.7,194.7 L216.9,193.8 L217.1,192.8 L217.3,191.8 L217.5,190.8 L217.7,189.9 L217.9,188.9 L218.1,187.9 L218.3,186.9 L218.5,186.0 L218.7,185.0 L218.9,184.0 L219.1,183.0 L219.3,182.0 L219.5,181.1 L219.7,180.1 L219.9,179.1 L220.1,178.1 L220.3,177.2 L220.5,176.2 L220.7,175.2 L220.9,174.2 L221.1,173.3 L221.3,172.3 L221.6,171.3 L221.8,170.3 L222.0,169.4 L222.2,168.4 L222.4,167.4 L222.7,166.5 L222.9,165.5 L223.1,164.5 L223.3,163.6 L223.6,162.6 L223.8,161.6 L224.1,160.7 L224.3,159.7 L224.5,158.7 L224.8,157.8 L225.0,156.8 L225.3,155.8 L225.5,154.9 L225.8,153.9 L226.1,152.9 L226.3,152.0 L226.6,151.0 L226.8,150.0 L227.1,149.1 L227.4,148.1 L227.6,147.2 L227.9,146.2 L228.2,145.2 L228.4,144.3 L228.7,143.3 L229.0,142.4 L229.3,141.4 L229.5,140.4 L229.8,139.5 L230.1,138.5 L230.4,137.6 L230.6,136.6 L230.9,135.6 L231.2,134.7 L231.5,133.7 L231.8,132.8 L232.0,131.8 L232.3,130.8 L232.6,129.9 L232.9,128.9 L233.2,128.0 L233.5,127.0 L233.8,126.1 L234.1,125.1 L234.4,124.2 L234.7,123.2 L235.0,122.3 L235.4,121.3 L235.7,120.4 L236.1,119.5 L236.5,118.5 L236.8,117.6 L237.2,116.7 L237.6,115.8 L238.0,114.9 L238.4,114.0 L238.9,113.1 L239.3,112.2 L239.7,111.2 L240.1,110.3 L240.5,109.4 L241.0,108.5 L241.4,107.6 L241.8,106.7 L242.3,105.8 L242.7,104.9 L243.2,104.1 L243.7,103.2 L244.3,102.4 L244.8,101.5 L245.4,100.7 L245.9,99.9 L246.5,99.1 L247.1,98.3 L247.7,97.5 L248.3,96.7 L248.9,95.9 L249.5,95.1 L250.1,94.3 L250.7,93.5 L251.4,92.7 L252.0,92.0 L252.7,91.3 L253.5,90.6 L254.2,90.0 L255.0,89.4 L255.9,88.8 L256.7,88.3 L257.6,87.8 L258.5,87.4 L259.5,87.0 L260.4,86.7 L261.4,86.4 L262.3,86.2 L263.3,85.9 L264.3,85.7 L265.3,85.5 L266.2,85.4 L267.2,85.2 L268.2,85.0 L269.2,84.8 L270.2,84.7 L271.2,84.5 L272.2,84.3 L273.1,84.1 L274.1,84.0 L275.1,83.8 L276.1,83.6 L277.1,83.5 L278.1,83.3 L279.0,83.2 L280.0,83.1 L281.0,82.9 L282.0,82.8 L283.0,82.7 L284.0,82.6 L285.0,82.5 L286.0,82.4 L287.0,82.3 L288.0,82.2 L289.0,82.1 L290.0,82.0 L291.0,81.9 L291.9,81.8 L292.9,81.7 L293.9,81.7 L294.9,81.6 L295.9,81.5 L296.9,81.5 L297.9,81.4 L298.9,81.3 L299.9,81.3 L300.9,81.3 L301.9,81.2 L302.9,81.2 L303.9,81.2 L304.9,81.2 L305.9,81.2 L306.9,81.2 L307.9,81.2 L308.9,81.3 L309.9,81.3 L310.9,81.3 L311.9,81.4 L312.9,81.4 L313.9,81.5 L314.9,81.6 L315.9,81.6 L316.9,81.7 L317.9,81.8 L318.9,81.9 L319.8,82.0 L320.8,82.1 L321.8,82.2 L322.8,82.3 L323.8,82.4 L324.8,82.6 L325.8,82.7 L326.8,82.8 L327.8,82.9 L328.8,83.1 L329.7,83.2 L330.7,83.4 L331.7,83.5 L332.7,83.7 L333.7,83.8 L334.7,84.0 L335.7,84.1 L336.6,84.3 L337.6,84.4 L338.6,84.6 L339.6,84.8 L340.6,84.9 L341.6,85.1 L342.6,85.2 L343.5,85.4 L344.5,85.6 L345.5,85.7 L346.5,85.9 L347.5,86.1 L348.5,86.3 L349.4,86.5 L350.4,86.7 L351.4,86.9 L352.4,87.1 L353.3,87.3 L354.3,87.5 L355.3,87.7 L356.3,87.9 L357.2,88.1 L358.2,88.4 L359.2,88.6 L360.2,88.8 L361.1,89.1 L362.1,89.3 L363.1,89.5 L364.0,89.8 L365.0,90.1 L366.0,90.3 L366.9,90.6 L367.9,90.8 L368.8,91.1 L369.8,91.4 L370.8,91.7 L371.7,92.0 L372.7,92.2 L373.6,92.5 L374.6,92.8 L375.5,93.1 L376.5,93.4 L377.4,93.7 L378.4,94.0 L379.3,94.4 L380.3,94.7 L381.2,95.0 L382.2,95.3 L383.1,95.6 L384.1,96.0 L385.0,96.3 L385.9,96.6 L386.9,97.0 L387.8,97.3 L388.8,97.6 L389.7,98.0 L390.6,98.3 L391.6,98.6 L392.5,99.0 L393.5,99.3 L394.4,99.6 L395.3,99.9 L396.3,100.3 L397.2,100.6 L398.2,100.9 L399.1,101.3 L400.1,101.6 L401.0,101.9 L401.9,102.3 L402.9,102.6 L403.8,103.0 L404.7,103.3 L405.6,103.7 L406.6,104.1 L407.5,104.5 L408.4,104.8 L409.3,105.2 L410.3,105.6 L411.2,106.0 L412.1,106.4 L413.0,106.8 L414.0,107.1 L414.9,107.5 L415.8,107.9 L416.7,108.3 L417.6,108.7 L418.6,109.0 L419.5,109.4 L420.4,109.8 L421.3,110.1 L422.3,110.5 L423.2,110.9 L424.1,111.2 L425.1,111.6 L426.0,111.9 L426.9,112.3 L427.9,112.6 L428.8,113.0" stroke="#0000ff" stroke-dasharray="1.64,4.92,8.20,4.92" stroke-dashoffset="18.34"/>
<path d="M64.3,250.5 L65.3,250.4 L66.3,250.4 L67.3,250.3 L68.3,250.2 L69.3,250.1 L70.3,250.1 L71.3,250.0 L72.3,249.9 L73.3,249.8 L74.2,249.7 L75.2,249.5 L76.2,249.4 L77.2,249.3 L78.2,249.1 L79.2,249.0 L80.2,248.9 L81.2,248.7 L82.2,248.6 L83.2,248.5 L84.1,248.3 L85.1,248.2 L86.1,248.0 L87.1,247.8 L88.1,247.7 L89.1,247.5 L90.1,247.3 L91.0,247.1 L92.0,246.9 L93.0,246.7 L94.0,246.5 L94.9,246.3 L95.9,246.1 L96.9,245.8 L97.8,245.6 L98.8,245.4 L99.8,245.1 L100.7,244.9 L101.7,244.6 L102.7,244.4 L103.7,244.2 L104.7,244.0 L105.7,243.8 L106.7,243.7 L107.7,243.5 L108.7,243.3 L109.7,243.1 L110.6,242.8 L111.6,242.6 L112.5,242.3 L113.5,242.0 L114.4,241.6 L115.2,241.2 L116.1,240.7 L116.9,240.2 L117.7,239.6 L118.5,239.0 L119.3,238.3 L120.0,237.7 L120.8,237.0 L121.5,236.3 L122.3,235.6 L123.0,234.9 L123.8,234.3 L124.5,233.6 L125.3,233.0 L126.1,232.4 L126.9,231.8 L127.8,231.3 L128.6,230.7 L129.5,230.2 L130.3,229.7 L131.2,229.2 L132.1,228.7 L132.9,228.2 L133.8,227.7 L134.6,227.2 L135.5,226.7 L136.3,226.1 L137.2,225.6 L138.1,225.2 L139.0,224.7 L139.9,224.2 L140.8,223.8 L141.7,223.4 L142.7,223.1 L143.6,222.9 L144.6,222.7 L145.6,222.6 L146.6,222.6 L147.6,222.7 L148.6,222.9 L149.6,223.2 L150.5,223.6 L151.3,224.2 L152.1,224.8 L152.7,225.5 L153.4,226.3 L154.0,227.2 L154.5,228.0 L155.2,228.8 L155.8,229.6 L156.4,230.4 L157.0,231.2 L157.7,231.9 L158.3,232.7 L158.8,233.5 L159.4,234.4 L159.9,235.2 L160.4,236.1 L160.8,237.0 L161.2,237.9 L161.6,238.8 L162.0,239.7 L162.4,240.7 L162.7,241.6 L163.1,242.5 L163.5,243.4 L164.0,244.4 L164.4,245.2 L164.9,246.1 L165.4,247.0 L166.0,247.8 L166.6,248.6 L167.2,249.3 L167.9,250.0 L168.6,250.8 L169.3,251.5 L170.1,252.2 L170.8,252.8" stroke="#ff00ff" stroke-dasharray="8.20,4.92,1.64,4.92,8.20,4.92" stroke-dashoffset="32.49"/>
<path d="M196.2,252.8 L196.8,252.0 L197.4,251.2 L197.9,250.4 L198.5,249.6 L199.1,248.7 L199.7,247.9 L200.2,247.1 L200.8,246.2 L201.3,245.4 L201.9,244.6 L202.4,243.7 L203.0,242.9 L203.5,242.0 L204.0,241.2 L204.5,240.3 L205.0,239.5 L205.5,238.6 L206.0,237.7 L206.4,236.9 L206.9,236.0 L207.3,235.1 L207.7,234.2 L208.1,233.3 L208.5,232.4 L208.9,231.4 L209.3,230.5 L209.6,229.6 L210.0,228.7 L210.3,227.7 L210.6,226.8 L211.0,225.8 L211.3,224.9 L211.6,223.9 L211.9,223.0 L212.1,222.0 L212.4,221.1 L212.7,220.1 L213.0,219.1 L213.2,218.2 L213.5,217.2 L213.7,216.2 L214.0,215.2 L214.2,214.3 L214.4,213.3 L214.7,212.3 L214.9,211.3 L215.1,210.3 L215.4,209.4 L215.6,208.4 L215.8,207.4 L216.1,206.4 L216.3,205.4 L216.5,204.5 L216.8,203.5 L217.0,202.5 L217.2,201.5 L217.4,200.6 L217.7,199.6 L217.9,198.6 L218.1,197.6 L218.3,196.7 L218.6,195.7 L218.8,194.7 L219.0,193.7 L219.3,192.8 L219.5,191.8 L219.7,190.8 L219.9,189.9 L220.2,188.9 L220.4,187.9 L220.6,186.9 L220.9,186.0 L221.1,185.0 L221.3,184.0 L221.6,183.1 L221.8,182.1 L222.1,181.1 L222.3,180.2 L222.5,179.2 L222.8,178.2 L223.0,177.3 L223.3,176.3 L223.5,175.3 L223.8,174.4 L224.0,173.4 L224.3,172.5 L224.5,171.5 L224.8,170.5 L225.0,169.6 L225.3,168.6 L225.6,167.7 L225.8,166.7 L226.1,165.7 L226.4,164.8 L226.6,163.8 L226.9,162.9 L227.2,161.9 L227.5,161.0 L227.7,160.0 L228.0,159.0 L228.3,158.1 L228.6,157.1 L228.9,156.2 L229.2,155.2 L229.5,154.3 L229.8,153.3 L230.1,152.4 L230.4,151.4 L230.7,150.5 L231.0,149.5 L231.3,148.6 L231.7,147.6 L232.0,146.7 L232.3,145.7 L232.6,144.8 L233.0,143.9 L233.3,142.9 L233.6,142.0 L234.0,141.0 L234.3,140.1 L234.7,139.2 L235.0,138.2 L235.4,137.3 L235.7,136.3 L236.1,135.4 L236.4,134.5 L236.8,133.5 L237.2,132.6 L237.5,131.7 L237.9,130.7 L238.3,129.8 L238.7,128.9 L239.1,128.0 L239.4,127.0 L239.8,126.1 L240.3,125.2 L240.7,124.3 L241.1,123.4 L241.5,122.5 L241.9,121.6 L242.4,120.7 L242.8,119.8 L243.3,118.9 L243.8,118.0 L244.2,117.1 L244.7,116.2 L245.2,115.4 L245.7,114.5 L246.2,113.7 L246.8,112.8 L247.3,112.0 L247.8,111.1 L248.4,110.3 L249.0,109.5 L249.6,108.7 L250.2,107.9 L250.8,107.1 L251.4,106.3 L252.1,105.5 L252.7,104.8 L253.4,104.0 L254.1,103.3 L254.8,102.6 L255.5,101.9 L256.2,101.2 L257.0,100.6 L257.7,99.9 L258.5,99.3 L259.3,98.7 L260.1,98.1 L260.9,97.5 L261.7,97.0 L262.6,96.4 L263.4,95.8 L264.2,95.3 L265.1,94.8 L265.9,94.2 L266.8,93.7 L267.6,93.2 L268.5,92.7 L269.4,92.2 L270.2,91.7 L271.1,91.2 L272.0,90.7 L272.8,90.2 L273.7,89.8 L274.6,89.3 L275.5,88.9 L276.4,88.5 L277.3,88.1 L278.3,87.7 L279.2,87.3 L280.1,86.9 L281.0,86.6 L282.0,86.2 L282.9,85.8 L283.8,85.5 L284.8,85.1 L285.7,84.8 L286.7,84.5 L287.6,84.1 L288.5,83.8 L289.5,83.5 L290.4,83.2 L291.4,82.9 L292.3,82.5 L293.3,82.3 L294.2,82.0 L295.2,81.7 L296.2,81.4 L297.1,81.2 L298.1,80.9 L299.1,80.7 L300.0,80.5 L301.0,80.3 L302.0,80.1 L303.0,80.0 L304.0,79.8 L305.0,79.6 L305.9,79.5 L306.9,79.3 L307.9,79.2 L308.9,79.1 L309.9,79.0 L310.9,78.9 L311.9,78.7 L312.9,78.6 L313.9,78.5 L314.9,78.4 L315.9,78.3 L316.9,78.3 L317.9,78.2 L318.9,78.1 L319.9,78.0 L320.9,77.9 L321.8,77.9 L322.8,77.8 L323.8,77.8 L324.8,77.7 L325.8,77.7 L326.8,77.7 L327.8,77.7 L328.8,77.7 L329.8,77.7 L330.8,77.7 L331.8,77.7 L332.8,77.7 L333.8,77.7 L334.8,77.7 L335.8,77.8 L336.8,77.8 L337.8,77.9 L338.8,77.9 L339.8,78.0 L340.8,78.0 L341.8,78.1 L342.8,78.2 L343.8,78.3 L344.8,78.3 L345.8,78.4 L346.8,78.5 L347.8,78.6 L348.8,78.7 L349.7,78.9 L350.7,79.0 L351.7,79.1 L352.7,79.3 L353.7,79.4 L354.7,79.6 L355.7,79.7 L356.7,79.9 L357.6,80.1 L358.6,80.2 L359.6,80.4 L360.6,80.6 L361.6,80.8 L362.5,81.0 L363.5,81.2 L364.5,81.4 L365.5,81.6 L366.5,81.8 L367.4,82.0 L368.4,82.2 L369.4,82.5 L370.3,82.7 L371.3,82.9 L372.3,83.1 L373.3,83.4 L374.2,83.6 L375.2,83.8 L376.2,84.1 L377.1,84.3 L378.1,84.6 L379.1,84.8 L380.0,85.1 L381.0,85.4 L381.9,85.7 L382.9,86.0 L383.9,86.3 L384.8,86.6 L385.7,86.9 L386.7,87.2 L387.6,87.5 L388.6,87.9 L389.5,88.2 L390.5,88.5 L391.4,88.9 L392.3,89.2 L393.3,89.5 L394.2,89.9 L395.2,90.2 L396.1,90.5 L397.1,90.8 L398.0,91.2 L399.0,91.5 L399.9,91.8 L400.8,92.1 L401.8,92.4 L402.7,92.7 L403.7,93.1 L404.6,93.4 L405.6,93.7 L406.5,94.0 L407.5,94.4 L408.4,94.7 L409.3,95.0 L410.3,95.4 L411.2,95.7 L412.1,96.1 L413.1,96.4 L414.0,96.8 L415.0,97.1 L415.9,97.5 L416.8,97.8 L417.8,98.2 L418.7,98.5 L419.6,98.9 L420.6,99.2 L421.5,99.6 L422.4,100.0 L423.3,100.4 L424.2,100.8 L425.2,101.2 L426.1,101.6 L427.0,102.0 L427.9,102.4 L428.8,102.8" stroke="#ff00ff" stroke-dasharray="8.20,4.92,1.64,4.92,8.20,4.92" stroke-dashoffset="32.45"/>
</g>
<g stroke="#000" stroke-width="1.7" fill="none">
<line x1="64.3" y1="252.85" x2="428.8" y2="252.85"/>
<rect x="64.3" y="7.1" width="364.50" height="255.05"/>
</g>
<g stroke="#000" stroke-width="1.35" fill="none">
<line x1="104.80" y1="262.15" x2="104.80" y2="254.64999999999998"/>
<line x1="104.80" y1="7.1" x2="104.80" y2="14.6"/>
<line x1="145.30" y1="262.15" x2="145.30" y2="258.45"/>
<line x1="145.30" y1="7.1" x2="145.30" y2="10.8"/>
<line x1="185.80" y1="262.15" x2="185.80" y2="254.64999999999998"/>
<line x1="185.80" y1="7.1" x2="185.80" y2="14.6"/>
<line x1="226.30" y1="262.15" x2="226.30" y2="258.45"/>
<line x1="226.30" y1="7.1" x2="226.30" y2="10.8"/>
<line x1="266.80" y1="262.15" x2="266.80" y2="254.64999999999998"/>
<line x1="266.80" y1="7.1" x2="266.80" y2="14.6"/>
<line x1="307.30" y1="262.15" x2="307.30" y2="258.45"/>
<line x1="307.30" y1="7.1" x2="307.30" y2="10.8"/>
<line x1="347.80" y1="262.15" x2="347.80" y2="254.64999999999998"/>
<line x1="347.80" y1="7.1" x2="347.80" y2="14.6"/>
<line x1="388.30" y1="262.15" x2="388.30" y2="258.45"/>
<line x1="388.30" y1="7.1" x2="388.30" y2="10.8"/>
<line x1="64.3" y1="228.28" x2="68.0" y2="228.28"/>
<line x1="428.8" y1="228.28" x2="425.1" y2="228.28"/>
<line x1="64.3" y1="203.70" x2="71.8" y2="203.70"/>
<line x1="428.8" y1="203.70" x2="421.3" y2="203.70"/>
<line x1="64.3" y1="179.12" x2="68.0" y2="179.12"/>
<line x1="428.8" y1="179.12" x2="425.1" y2="179.12"/>
<line x1="64.3" y1="154.55" x2="71.8" y2="154.55"/>
<line x1="428.8" y1="154.55" x2="421.3" y2="154.55"/>
<line x1="64.3" y1="129.97" x2="68.0" y2="129.97"/>
<line x1="428.8" y1="129.97" x2="425.1" y2="129.97"/>
<line x1="64.3" y1="105.40" x2="71.8" y2="105.40"/>
<line x1="428.8" y1="105.40" x2="421.3" y2="105.40"/>
<line x1="64.3" y1="80.82" x2="68.0" y2="80.82"/>
<line x1="428.8" y1="80.82" x2="425.1" y2="80.82"/>
<line x1="64.3" y1="56.25" x2="71.8" y2="56.25"/>
<line x1="428.8" y1="56.25" x2="421.3" y2="56.25"/>
<line x1="64.3" y1="31.68" x2="68.0" y2="31.68"/>
<line x1="428.8" y1="31.68" x2="425.1" y2="31.68"/>
</g>
<g font-family="Liberation Serif, serif" font-size="18.2" fill="#000">
<text x="105.20" y="279.4" text-anchor="middle">-200</text>
<text x="185.80" y="279.4" text-anchor="middle">0</text>
<text x="267.50" y="279.4" text-anchor="middle">200</text>
<text x="347.80" y="279.4" text-anchor="middle">400</text>
<text x="429.10" y="279.4" text-anchor="middle">600</text>
<text x="61.5" y="259.45" text-anchor="end">0</text>
<text x="61.5" y="210.30" text-anchor="end">100</text>
<text x="61.5" y="161.15" text-anchor="end">200</text>
<text x="61.5" y="112.00" text-anchor="end">300</text>
<text x="61.5" y="62.85" text-anchor="end">400</text>
<text x="61.5" y="13.70" text-anchor="end">500</text>
</g>
<g font-family="Liberation Serif, serif" font-size="20.3" fill="#000">
<text x="211.4" y="295.8">E [MeV]</text>
<text transform="translate(22.1,203.5) rotate(-90)" font-size="20.55">J<tspan font-size="15.4" dy="7.5">W</tspan><tspan dy="-7.5">/A [Me</tspan><tspan dx="1.1">V</tspan><tspan dx="-1.8"> f</tspan><tspan dx="0.7">m</tspan><tspan font-size="14.2" dy="-11.5">3</tspan><tspan dy="11.5">]</tspan></text>
</g>
</svg>
</body></html>
